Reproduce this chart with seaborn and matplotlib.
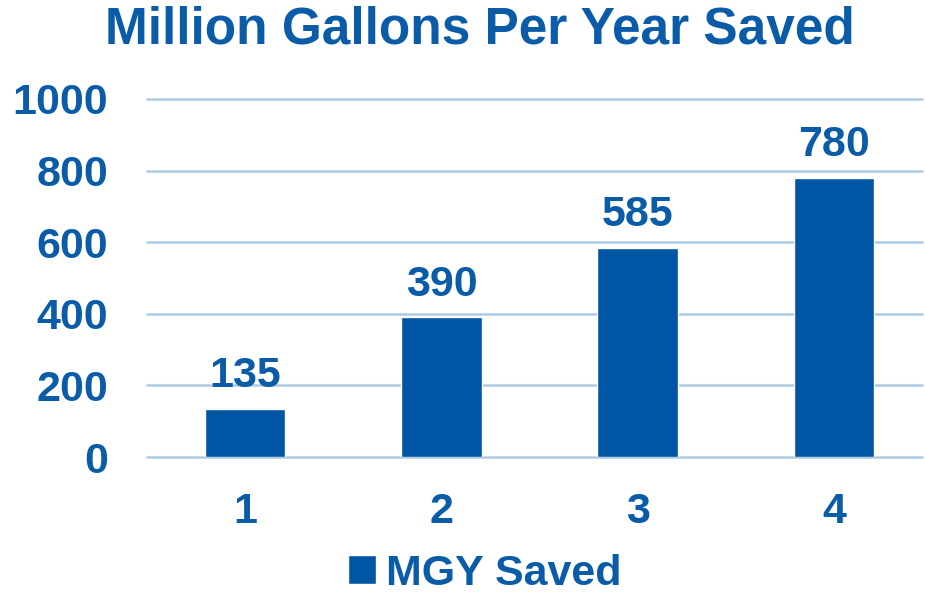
import matplotlib
matplotlib.use("Agg")
import matplotlib.pyplot as plt
import seaborn as sns
import pandas as pd

years = ["1", "2", "3", "4"]
mgy_saved = [135, 390, 585, 780]
y_ticks = [0, 200, 400, 600, 800, 1000]

BAR_BLUE = "#0055A5"
TEXT_BLUE = "#0A5BA8"
GRID_BLUE = "#C2DAEE"

sns.set_theme(style="white")
plt.rcParams["font.family"] = ["Liberation Sans", "DejaVu Sans"]
plt.rcParams["font.weight"] = "bold"

df = pd.DataFrame({"Year": years, "MGY": mgy_saved})

fig = plt.figure(figsize=(9.25, 5.96), dpi=100)
ax = fig.add_axes([0.159, 0.233, 0.838, 0.601])

sns.barplot(data=df, x="Year", y="MGY", color=BAR_BLUE, width=0.41,
            saturation=1, ax=ax, label="MGY Saved", zorder=3)
handles, labels = ax.get_legend_handles_labels()
if ax.get_legend() is not None:
    ax.get_legend().remove()

ax.set_ylim(0, 1000)
ax.set_xlim(-0.5, 3.45)
ax.set_yticks(y_ticks)
for t in y_ticks:
    ax.axhline(t, color=GRID_BLUE, lw=2.2, zorder=1, clip_on=False)
    ax.axhline(t, color="#A9BFD3", lw=0.5, zorder=1, clip_on=False)

for s in ax.spines.values():
    s.set_visible(False)
ax.tick_params(axis="both", length=0, colors=TEXT_BLUE, labelsize=31)
ax.tick_params(axis="x", pad=25)
ax.tick_params(axis="y", pad=28)
for lbl in ax.get_xticklabels() + ax.get_yticklabels():
    lbl.set_fontweight("bold")
ax.set_xlabel("")
ax.set_ylabel("")

for i, v in enumerate(mgy_saved):
    ax.text(i, v + 35, str(v), ha="center", va="bottom", fontsize=31,
            fontweight="bold", color=TEXT_BLUE)

fig.suptitle("Million Gallons Per Year Saved", x=0.519, y=0.95, va="center",
             fontsize=37, fontweight="bold", color=TEXT_BLUE)

leg = fig.legend(handles, labels, loc="center",
                 bbox_to_anchor=(0.524, 0.037), frameon=False,
                 fontsize=31, handlelength=0.65, handleheight=0.65,
                 handletextpad=0.25, borderpad=0)
for t in leg.get_texts():
    t.set_color(TEXT_BLUE)
    t.set_fontweight("bold")

fig.savefig("out.png", dpi=100)
